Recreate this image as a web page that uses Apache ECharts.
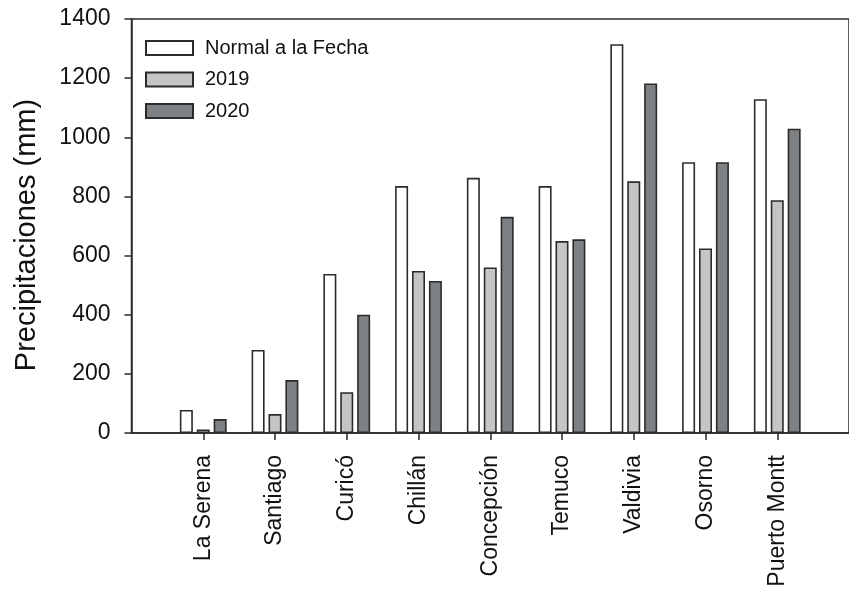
<!DOCTYPE html>
<html>
<head>
<meta charset="utf-8">
<script src="https://cdn.jsdelivr.net/npm/echarts@6/dist/echarts.min.js"></script>
<style>
  html, body { margin: 0; padding: 0; background: #fff; }
  #chart { width: 849px; height: 593px; }
</style>
</head>
<body>
<div id="chart"></div>
<script>
// Estaciones meteorológicas
const cities = ['La Serena', 'Santiago', 'Curicó', 'Chillán', 'Concepción', 'Temuco', 'Valdivia', 'Osorno', 'Puerto Montt'];

// Precipitación acumulada (mm)
const normalFecha = [78, 281, 538, 835, 863, 835, 1315, 916, 1129];
const year2019 = [12, 64, 138, 548, 560, 649, 851, 624, 787];
const year2020 = [47, 179, 400, 514, 731, 655, 1182, 916, 1029];

const seriesNames = ['Normal a la Fecha', '2019', '2020'];
const yTicks = [0, 200, 400, 600, 800, 1000, 1200, 1400];

// cities sit at positions 1..9 on a 0..10 axis
const positions = cities.map((c, i) => i + 1);
const toPoints = vals => vals.map((v, i) => [positions[i], v]);

const FONT = 'Liberation Sans, Arial, sans-serif';
const INK = '#2b2b2b';
const fills = ['#ffffff', '#c4c6c5', '#7e8183'];

const chart = echarts.init(document.getElementById('chart'), null, { renderer: 'canvas' });

chart.setOption({
  animation: false,
  backgroundColor: '#ffffff',
  grid: {
    left: 131.5, top: 19, right: -2.5, bottom: 160,
    show: true, borderColor: INK, borderWidth: 1.5, backgroundColor: 'transparent'
  },
  legend: {
    orient: 'vertical',
    left: 145, top: 38, padding: 0,
    itemWidth: 47, itemHeight: 14, itemGap: 11.5,
    icon: 'rect',
    textStyle: { fontFamily: FONT, fontSize: 20, color: '#111', padding: [0, 0, 0, 7] },
    data: seriesNames
  },
  xAxis: {
    type: 'value',
    min: 0, max: 10, interval: 1,
    axisLine: { show: true, lineStyle: { color: INK, width: 1.5 } },
    axisTick: { show: true, length: 7, lineStyle: { color: INK, width: 1.5 }, customValues: positions },
    splitLine: { show: false },
    axisLabel: {
      customValues: positions,
      rotate: 90,
      margin: 22,
      fontFamily: FONT, fontSize: 23, color: '#111',
      formatter: v => cities[v - 1] || ''
    }
  },
  yAxis: {
    type: 'value',
    min: yTicks[0], max: yTicks[yTicks.length - 1], interval: 200,
    name: 'Precipitaciones (mm)',
    nameLocation: 'middle',
    nameGap: 90,
    nameTextStyle: { fontFamily: FONT, fontSize: 29, color: '#111', padding: [0, 18, 0, 0] },
    axisLine: { show: true, lineStyle: { color: INK, width: 1.5 } },
    axisTick: { show: true, length: 7, lineStyle: { color: INK, width: 1.5 } },
    splitLine: { show: false },
    axisLabel: { margin: 21, fontFamily: FONT, fontSize: 23, color: '#111', formatter: v => String(v) }
  },
  series: [normalFecha, year2019, year2020].map((vals, k) => ({
    name: seriesNames[k],
    type: 'bar',
    barWidth: 13,
    barGap: '30%',
    data: toPoints(vals),
    itemStyle: { color: fills[k], borderColor: INK, borderWidth: 1.6 }
  }))
});
</script>
</body>
</html>
